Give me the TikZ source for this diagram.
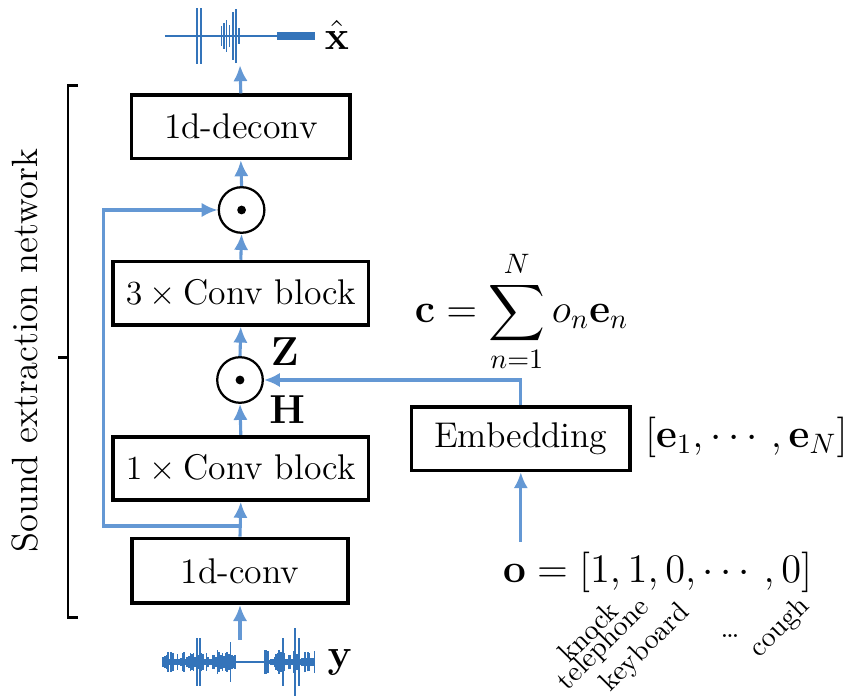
\documentclass[tikz,border=0pt]{standalone}
\usepackage{amsmath, amssymb}
\usepackage{tikz}
\usetikzlibrary{arrows.meta, positioning}
\definecolor{flowblue}{RGB}{100,152,212}
\definecolor{waveblue}{RGB}{52,116,186}
\newcommand{\boxfont}{\fontsize{12.7}{15.5}\selectfont}
\newcommand{\mathfont}{\fontsize{14}{17}\selectfont}

\begin{document}
\begin{tikzpicture}[
	block/.style={
		rectangle,
		draw=black,
		line width=1.3pt,
		minimum width=2.73cm,
		minimum height=0.79cm,
		align=center,
		font=\boxfont
	},
	wideblock/.style={block, minimum width=3.19cm},
	prod/.style={circle, draw=black, line width=0.8pt, minimum size=0.57cm, inner sep=0pt},
	flow/.style={draw=flowblue, line width=1.1pt, -{Latex[length=2mm,width=1.8mm]}},
	wave/.style={draw=waveblue, line width=0.6pt},
	tag/.style={rotate=45, anchor=east, inner sep=1pt}
	]

	\useasboundingbox (0,0) rectangle (10.6,8.725);

	% Main column
	\node[block] (deconv) at (3.01,7.14) {1d-deconv};
	\node[prod] (dottop) at (3.02,6.1) {};
	\node[wideblock] (conv3) at (3.01,5.06) {$3\times{}$Conv block};
	\node[prod] (dotmid) at (3.0,3.975) {};
	\node[wideblock] (conv1) at (3.01,2.87) {$1\times{}$Conv block};
	\node[block, minimum width=2.7cm, minimum height=0.81cm] (conv) at (3.0,1.59) {1d-conv};

	\fill (dottop.center) circle (0.055);
	\fill (dotmid.center) circle (0.055);

	% Feature labels
	\node[font=\mathfont] (zlab) at (3.56,4.325) {$\mathbf{Z}$};
	\node[font=\mathfont] (hlab) at (3.59,3.6) {$\mathbf{H}$};

	% Conditioning branch
	\node[block] (emb) at (6.51,3.24) {Embedding};
	\node[font=\mathfont] (elist) at (9.33,3.26) {$[\mathbf{e}_1,\cdots,\mathbf{e}_N]$};
	\node[font=\mathfont] (csum) at (6.52,4.83) {$\displaystyle \mathbf{c}=\sum_{n=1}^{N} o_n\mathbf{e}_n$};
	\node[font=\mathfont] (onehot) at (8.22,1.575) {$\mathbf{o}=[1,1,0,\cdots,0]$};

	% Class names
	\node[tag] (knock) at (7.7,1.18) {knock};
	\node[tag] (phone) at (8.1,1.21) {telephone};
	\node[tag] (keys) at (8.6,1.15) {keyboard};
	\node (more) at (9.125,0.78) {\dots};
	\node[tag] (cough) at (10.1,1.22) {cough};

	% Waveforms
	\node[font=\mathfont] (xhat) at (4.21,8.29) {$\hat{\mathbf{x}}$};
	\node[font=\mathfont] (ylab) at (4.25,0.45) {$\mathbf{y}$};
	\coordinate (xin) at (3.0,7.91);
	\coordinate (yout) at (3.0,0.725);

	\draw[wave] (2.06,8.275) -- (3.46,8.275);
	\draw[waveblue, line width=0.1cm] (3.46,8.275) -- (3.94,8.275);
	\foreach \x/\h in {2.46/0.35, 2.51/0.35, 2.77/0.12, 2.8/0.16, 2.83/0.2, 2.87/0.14, 2.91/0.3, 2.95/0.34, 2.99/0.1}
		\draw[wave] (\x,8.275-\h) -- (\x,8.275+\h);

	\pgfmathsetseed{12}
	\draw[wave] (2.04,0.45) -- (3.94,0.45);
	\foreach \x in {2.04,2.06,...,2.95} {
		\pgfmathsetmacro{\h}{0.03+0.1*rnd}
		\draw[wave] (\x,0.45-\h) -- (\x,0.45+\h);
	}
	\foreach \x in {3.31,3.33,...,3.94} {
		\pgfmathsetmacro{\h}{0.03+0.12*rnd}
		\draw[wave] (\x,0.45-\h) -- (\x,0.45+\h);
	}
	\foreach \x/\h in {2.46/0.3, 2.5/0.3, 2.72/0.15, 2.88/0.25, 3.54/0.3, 3.69/0.42, 3.74/0.3}
		\draw[wave] (\x,0.45-\h) -- (\x,0.45+\h);

	% Connectors
	\coordinate (split) at (3.0,2.15);
	\coordinate (skip) at (1.29,2.15);
	\draw[flow] (yout) -- (conv.south);
	\draw[flow] (conv.north) -- (conv1.south);
	\draw[flow] (conv1.north) -- (dotmid.south);
	\draw[flow] (dotmid.north) -- (conv3.south);
	\draw[flow] (conv3.north) -- (dottop.south);
	\draw[flow] (dottop.north) -- (deconv.south);
	\draw[flow] (deconv.north) -- (xin);
	\draw[flow] (split) -- (skip) |- (dottop.west);
	\draw[flow] (emb.north) |- (dotmid.east);
	\draw[flow] (emb.south |- onehot.north) -- (emb.south);

	% Bracket
	\coordinate (brtop) at (0.85,7.66);
	\coordinate (brbot) at (0.85,1.01);
	\draw[line width=1pt] (0.975,7.66) -- (brtop) -- (brbot) -- (0.975,1.01);
	\draw[line width=1pt] (0.85,4.26) -- (0.725,4.26);
	\node[rotate=90, font=\fontsize{13}{16}\selectfont] (netlab) at (0.31,4.34) {Sound extraction network};

\end{tikzpicture}
\end{document}
